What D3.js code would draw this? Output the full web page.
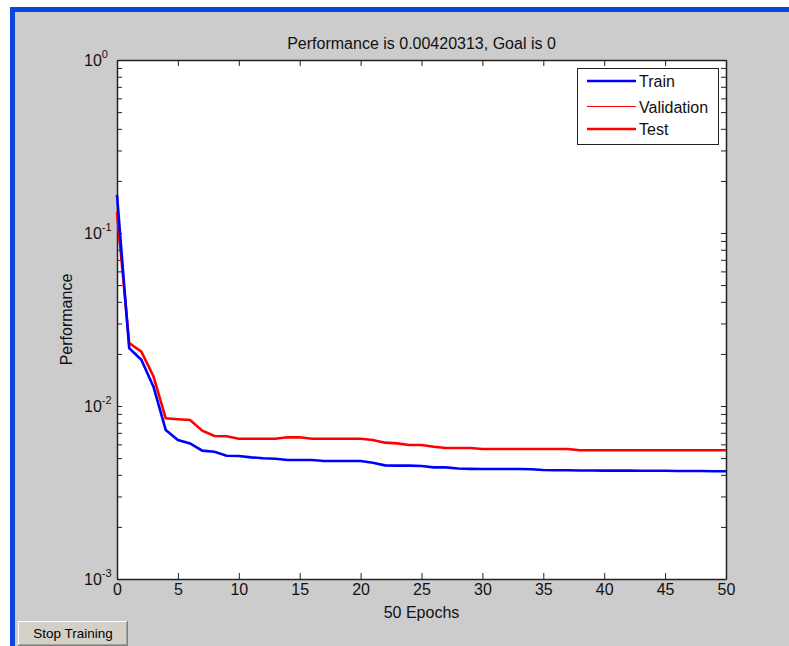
<!DOCTYPE html>
<html>
<head>
<meta charset="utf-8">
<script src="https://cdn.jsdelivr.net/npm/d3@7"></script>
<style>
  body { margin: 0; background: #ffffff; }
  svg { display: block; font-family: "Liberation Sans", Arial, sans-serif; }
</style>
</head>
<body>
<svg id="chart" width="789" height="646"></svg>
<script>
// performance per epoch (index = epoch number)
var trainPerf = [0.166, 0.0216, 0.0185, 0.0129, 0.00727, 0.00636, 0.00608, 0.00552, 0.00544, 0.00516,
    0.00514, 0.00505, 0.00499, 0.00496, 0.00487, 0.00487, 0.00487, 0.00481, 0.00481, 0.00481,
    0.00481, 0.0047, 0.00454, 0.00452, 0.00452, 0.0045, 0.00442, 0.00442, 0.00435, 0.00433,
    0.00432, 0.00432, 0.00432, 0.00432, 0.00431, 0.00427, 0.00425, 0.00425, 0.00424, 0.00424,
    0.00423, 0.00423, 0.00423, 0.00422, 0.00422, 0.00422, 0.00421, 0.00421, 0.00421, 0.0042, 0.0042];
var validationPerf = [0.132, 0.0231, 0.0206, 0.0148, 0.00849, 0.00838, 0.0083, 0.0072, 0.00671, 0.00668,
    0.00647, 0.00647, 0.00647, 0.00647, 0.00659, 0.00659, 0.00647, 0.00647, 0.00647, 0.00647,
    0.00647, 0.00636, 0.00614, 0.00608, 0.00595, 0.00595, 0.00582, 0.00572, 0.00572, 0.00572,
    0.00564, 0.00564, 0.00564, 0.00564, 0.00564, 0.00564, 0.00564, 0.00564, 0.00555, 0.00555,
    0.00555, 0.00555, 0.00555, 0.00555, 0.00555, 0.00555, 0.00555, 0.00555, 0.00555, 0.00555, 0.00555];
var testPerf = [0.132, 0.0231, 0.0206, 0.0148, 0.00849, 0.00838, 0.0083, 0.0072, 0.00671, 0.00668,
    0.00647, 0.00647, 0.00647, 0.00647, 0.00659, 0.00659, 0.00647, 0.00647, 0.00647, 0.00647,
    0.00647, 0.00636, 0.00614, 0.00608, 0.00595, 0.00595, 0.00582, 0.00572, 0.00572, 0.00572,
    0.00564, 0.00564, 0.00564, 0.00564, 0.00564, 0.00564, 0.00564, 0.00564, 0.00555, 0.00555,
    0.00555, 0.00555, 0.00555, 0.00555, 0.00555, 0.00555, 0.00555, 0.00555, 0.00555, 0.00555, 0.00555];
var xTicks = [0, 5, 10, 15, 20, 25, 30, 35, 40, 45, 50];
var yMajor = [1e-3, 1e-2, 1e-1, 1];
var yMajorExp = ["-3", "-2", "-1", "0"];
var seriesNames = ["Train", "Validation", "Test"];
var seriesColors = ["#0000ff", "#ff0000", "#ff0000"];
var titleText = "Performance is 0.00420313, Goal is 0";
var xLabel = "50 Epochs";
var yLabel = "Performance";

var svg = d3.select("#chart");
var plotLeft = 117, plotRight = 726, plotTop = 60, plotBottom = 579;
var fontSize = "16px";

// window frame
svg.append("rect").attr("x", 10).attr("y", 7).attr("width", 779).attr("height", 639).attr("fill", "#0a45dc");
svg.append("rect").attr("x", 15).attr("y", 12).attr("width", 774).attr("height", 634).attr("fill", "#cccccc");

var x = d3.scaleLinear().domain([0, 50]).range([plotLeft, plotRight]);
var y = d3.scaleLog().domain([1e-3, 1]).range([plotBottom, plotTop]);

// minor + major log ticks
var yTickVals = [];
[-3, -2, -1].forEach(function(k) {
    for (var m = 1; m < 10; m++) yTickVals.push(m * Math.pow(10, k));
});
yTickVals.push(1);

svg.append("rect")
    .attr("x", plotLeft).attr("y", plotTop)
    .attr("width", plotRight - plotLeft).attr("height", plotBottom - plotTop)
    .attr("fill", "#ffffff");

var axisColor = "#222";

var gx = svg.append("g")
    .attr("transform", "translate(0," + plotBottom + ")")
    .call(d3.axisBottom(x).tickValues(xTicks).tickSizeInner(-6).tickSizeOuter(0).tickPadding(5)
        .tickFormat(d3.format("d")));
var gxTop = svg.append("g")
    .attr("transform", "translate(0," + plotTop + ")")
    .call(d3.axisTop(x).tickValues(xTicks).tickSizeInner(-6).tickSizeOuter(0).tickFormat(""));
var gy = svg.append("g")
    .attr("transform", "translate(" + plotLeft + ",0)")
    .call(d3.axisLeft(y).tickValues(yTickVals).tickSizeInner(-5).tickSizeOuter(0).tickFormat(""));
var gyRight = svg.append("g")
    .attr("transform", "translate(" + plotRight + ",0)")
    .call(d3.axisRight(y).tickValues(yTickVals).tickSizeInner(-5).tickSizeOuter(0).tickFormat(""));

[gx, gxTop, gy, gyRight].forEach(function(g) {
    g.selectAll("path").attr("stroke", axisColor).attr("stroke-width", 1.5);
    g.selectAll("line").attr("stroke", axisColor);
});
gx.selectAll("text")
    .attr("fill", "#111")
    .attr("font-size", fontSize)
    .attr("font-family", "Liberation Sans, Arial, sans-serif");

// y labels 10^k
yMajor.forEach(function(v, i) {
    var t = svg.append("text")
        .attr("x", 84)
        .attr("y", y(v) + 6)
        .attr("fill", "#111")
        .attr("font-size", fontSize);
    t.append("tspan").text("10");
    t.append("tspan").attr("dy", -8).attr("font-size", "11px").text(yMajorExp[i]);
});

// series
var line = d3.line()
    .x(function(d, i) { return x(i); })
    .y(function(d) { return y(d); });

svg.append("path").datum(testPerf)
    .attr("d", line).attr("fill", "none").attr("stroke", seriesColors[2]).attr("stroke-width", 2.6);
svg.append("path").datum(validationPerf)
    .attr("d", line).attr("fill", "none").attr("stroke", seriesColors[1]).attr("stroke-width", 1);
svg.append("path").datum(trainPerf)
    .attr("d", line).attr("fill", "none").attr("stroke", seriesColors[0]).attr("stroke-width", 2.6);

// legend
var legend = svg.append("g");
legend.append("rect")
    .attr("x", 577.5).attr("y", 68.5).attr("width", 141).attr("height", 76)
    .attr("fill", "#ffffff").attr("stroke", "#222").attr("stroke-width", 1);
var legendY = [81, 106.5, 129];
var legendW = [2.6, 1, 2.6];
seriesNames.forEach(function(name, i) {
    legend.append("line")
        .attr("x1", 587).attr("x2", 636)
        .attr("y1", legendY[i]).attr("y2", legendY[i])
        .attr("stroke", seriesColors[i]).attr("stroke-width", legendW[i]);
    legend.append("text")
        .attr("x", 639).attr("y", Math.round(legendY[i]) + 6)
        .attr("fill", "#111").attr("font-size", fontSize)
        .text(name);
});

// title and axis labels
svg.append("text")
    .attr("x", (plotLeft + plotRight) / 2).attr("y", 49)
    .attr("text-anchor", "middle").attr("fill", "#111").attr("font-size", fontSize)
    .text(titleText);
svg.append("text")
    .attr("x", (plotLeft + plotRight) / 2).attr("y", 618)
    .attr("text-anchor", "middle").attr("fill", "#111").attr("font-size", fontSize)
    .text(xLabel);
svg.append("text")
    .attr("transform", "translate(72," + ((plotTop + plotBottom) / 2) + ") rotate(-90)")
    .attr("text-anchor", "middle").attr("fill", "#111").attr("font-size", fontSize)
    .text(yLabel);

// Stop Training button
var btn = svg.append("g");
btn.append("rect").attr("x", 18).attr("y", 621).attr("width", 110).attr("height", 25).attr("fill", "#808080");
btn.append("rect").attr("x", 18).attr("y", 621).attr("width", 109).attr("height", 24).attr("fill", "#ffffff");
btn.append("rect").attr("x", 19).attr("y", 622).attr("width", 108).attr("height", 23).attr("fill", "#a0a0a0");
btn.append("rect").attr("x", 19).attr("y", 622).attr("width", 107).attr("height", 22).attr("fill", "#d4d0c8");
btn.append("text")
    .attr("x", 73).attr("y", 638)
    .attr("text-anchor", "middle").attr("fill", "#000").attr("font-size", "13.5px")
    .text("Stop Training");
</script>
</body>
</html>
